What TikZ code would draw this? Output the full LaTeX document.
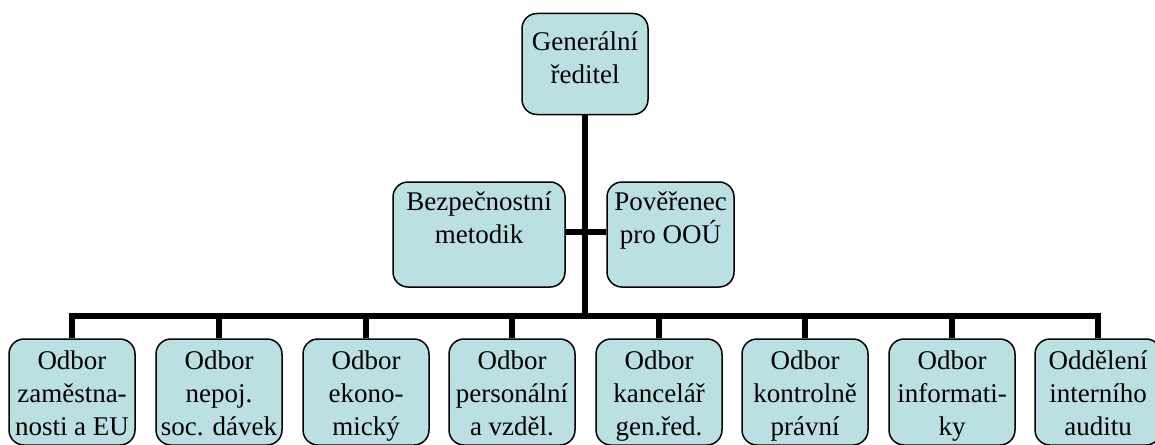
\documentclass[tikz,border=0pt]{standalone}
\usepackage{fontspec}
\setmainfont{Liberation Serif}
\definecolor{boxfill}{RGB}{186,224,227}
\begin{document}
\begin{tikzpicture}[x=1pt,y=1pt,
  box/.style={draw=black, line width=1.5pt, fill=boxfill, rounded corners=15pt, inner sep=0pt},
  txt/.style={align=center, inner sep=0pt, anchor=north, font=\fontsize{27}{33}\selectfont},
  conn/.style={line width=5.5pt, black, line join=miter}]
\useasboundingbox (0,0) rectangle (1155,-444);
\clip (0,0) rectangle (1155,-444);
% top
\node[box, minimum width=126pt, minimum height=101pt] (top) at (585,-64) {};
\node[txt] (toptxt) at (585,-32) {Generální\\ředitel};
% staff
\node[box, minimum width=172pt, minimum height=105pt] (bez) at (479,-234.5) {};
\node[txt] (beztxt) at (479,-192) {Bezpečnostní\\metodik};
\node[box, minimum width=127pt, minimum height=105pt] (pov) at (670.5,-234.5) {};
\node[txt] (povtxt) at (670.5,-192) {Pověřenec\\pro OOÚ};
% departments
\foreach \i/\x/\t in {1/72/{Odbor\\zaměstna-\\nosti a EU},
                      2/219/{Odbor\\nepoj.\\soc. dávek},
                      3/366/{Odbor\\ekono-\\mický},
                      4/512/{Odbor\\personální\\a vzděl.},
                      5/659/{Odbor\\kancelář\\gen.řed.},
                      6/805/{Odbor\\kontrolně\\právní},
                      7/952/{Odbor\\informati-\\ky},
                      8/1098/{Oddělení\\interního\\auditu}}{
  \node[box, minimum width=126pt, minimum height=106pt] (b\i) at (\x,-392) {};
  \node[txt] (t\i) at (\x,-351) {\t};
}
\coordinate (bus) at (0,-316);
% connectors
\draw[conn] (top.south) -- (top.south |- bus);
\draw[conn] ([yshift=2.5pt]bez.east) -- ([yshift=2.5pt]pov.west);
\draw[conn] (b1.north) -- (b1.north |- bus) -- (b8.north |- bus) -- (b8.north);
\foreach \i in {2,...,7}{
  \draw[conn] (b\i.north) -- (b\i.north |- bus);
}
\end{tikzpicture}
\end{document}
